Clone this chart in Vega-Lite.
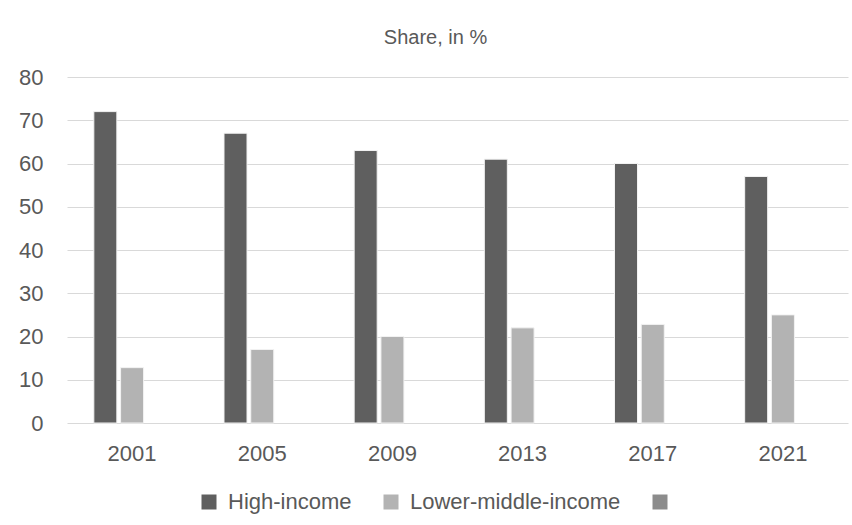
{
  "$schema": "https://vega.github.io/schema/vega-lite/v6.json",
  "autosize": {"type": "none"},
  "width": 781,
  "height": 346,
  "padding": {"left": 67, "top": 77, "right": 4, "bottom": 102},
  "background": "white",
  "title": {
    "text": "Share, in %",
    "font": "Liberation Sans",
    "fontSize": 20,
    "fontWeight": "normal",
    "color": "#595959",
    "anchor": "middle",
    "frame": "group",
    "dx": -22,
    "offset": 18
  },
  "data": {
    "values": [
      {"year": "2001", "group": "High-income", "share": 72},
      {"year": "2005", "group": "High-income", "share": 67},
      {"year": "2009", "group": "High-income", "share": 63},
      {"year": "2013", "group": "High-income", "share": 61},
      {"year": "2017", "group": "High-income", "share": 60},
      {"year": "2021", "group": "High-income", "share": 57},
      {"year": "2001", "group": "Lower-middle-income", "share": 12.8},
      {"year": "2005", "group": "Lower-middle-income", "share": 17},
      {"year": "2009", "group": "Lower-middle-income", "share": 20},
      {"year": "2013", "group": "Lower-middle-income", "share": 22},
      {"year": "2017", "group": "Lower-middle-income", "share": 22.8},
      {"year": "2021", "group": "Lower-middle-income", "share": 25}
    ]
  },
  "mark": {"type": "bar", "stroke": "#f2f2f2", "strokeWidth": 1},
  "encoding": {
    "x": {
      "field": "year",
      "type": "nominal",
      "title": null,
      "scale": {"paddingInner": 0.4, "paddingOuter": 0.2},
      "axis": {
        "labelAngle": 0,
        "labelFont": "Liberation Sans",
        "labelFontSize": 22,
        "labelColor": "#595959",
        "labelPadding": 20,
        "ticks": false,
        "domain": false,
        "grid": false
      }
    },
    "xOffset": {
      "field": "group",
      "type": "nominal",
      "scale": {"domain": ["High-income", "Lower-middle-income", ""], "paddingInner": 0.14, "paddingOuter": 0.03}
    },
    "y": {
      "field": "share",
      "type": "quantitative",
      "title": null,
      "scale": {"domain": [0, 80], "nice": false},
      "axis": {
        "values": [0, 10, 20, 30, 40, 50, 60, 70, 80],
        "labelFont": "Liberation Sans",
        "labelFontSize": 22,
        "labelColor": "#595959",
        "labelPadding": 24,
        "ticks": false,
        "domain": false,
        "grid": true,
        "gridColor": "#d9d9d9",
        "gridWidth": 1
      }
    },
    "color": {
      "field": "group",
      "type": "nominal",
      "scale": {
        "domain": ["High-income", "Lower-middle-income", ""],
        "range": ["#5f5f5f", "#b3b3b3", "#8c8c8c"]
      },
      "legend": {
        "title": null,
        "orient": "none",
        "legendX": 131,
        "legendY": 414,
        "direction": "horizontal",
        "symbolType": "square",
        "symbolSize": 225,
        "symbolStrokeWidth": 0,
        "labelFont": "Liberation Sans",
        "labelFontSize": 22,
        "labelColor": "#595959",
        "labelOffset": 8,
        "labelLimit": 400,
        "columnPadding": 28
      }
    }
  },
  "config": {"view": {"stroke": null}}
}
